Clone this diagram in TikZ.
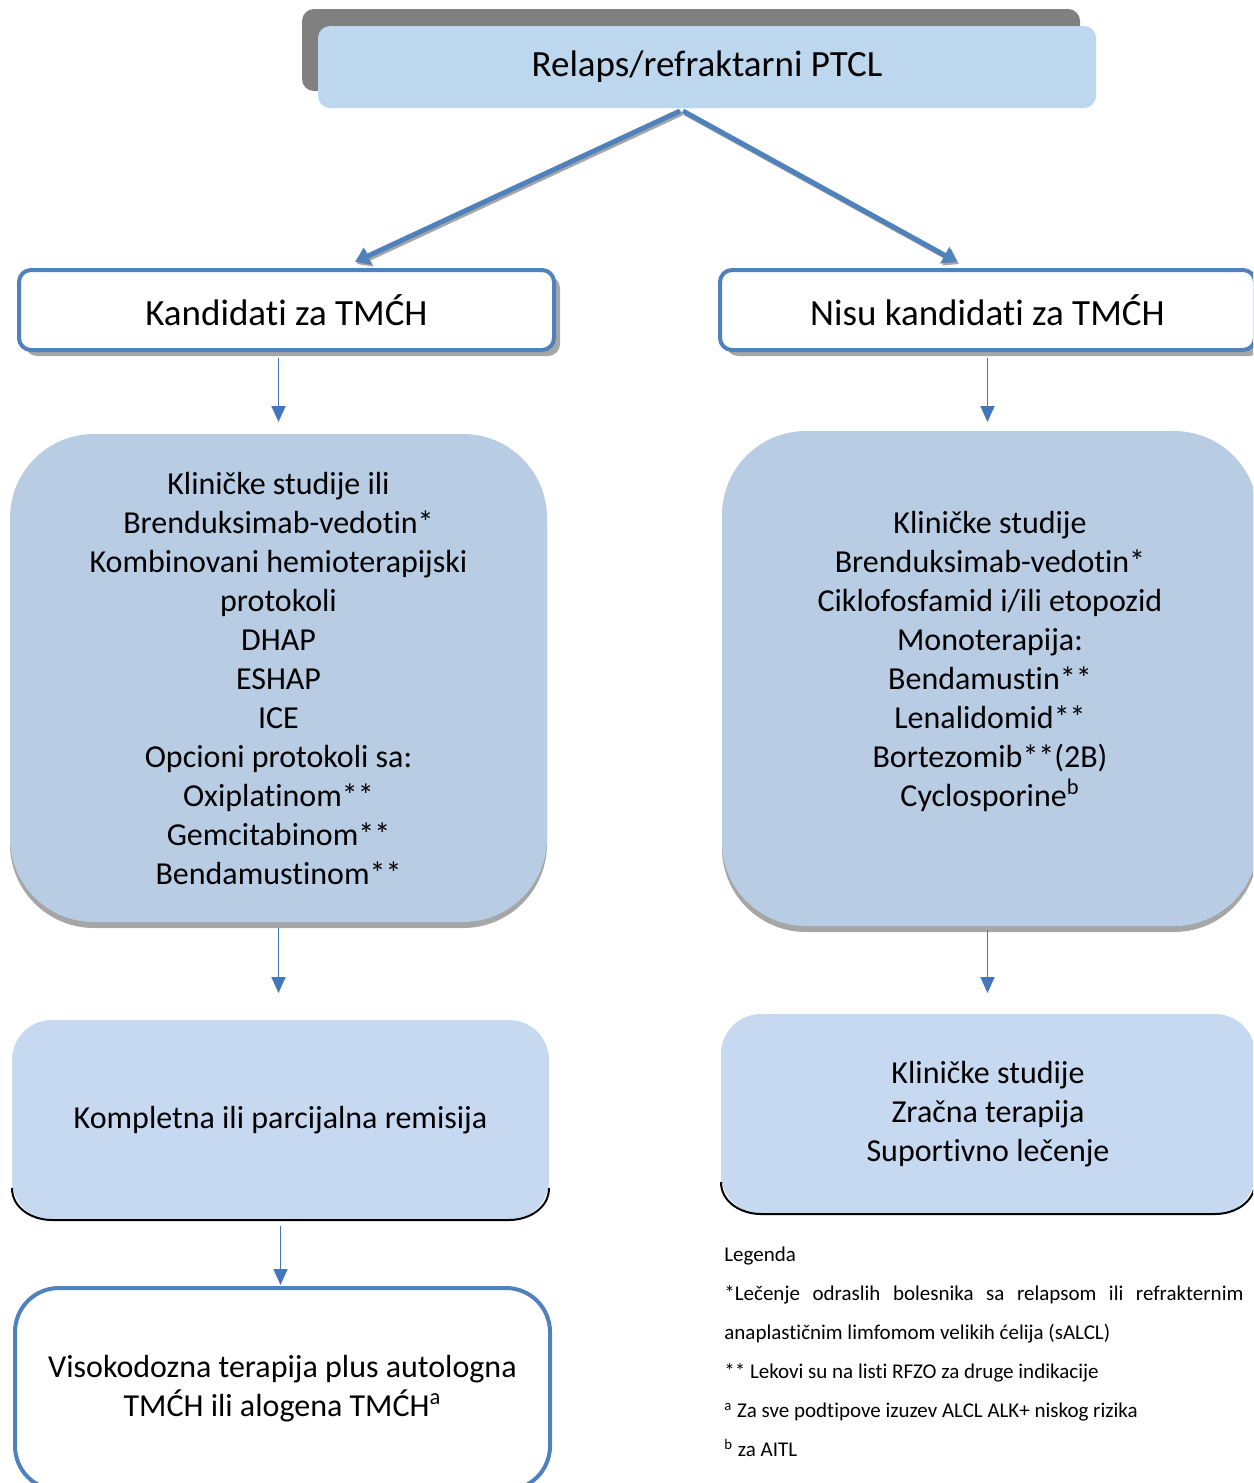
\documentclass[tikz,border=0pt]{standalone}
\usepackage{fontspec}
\setmainfont{Carlito}[RawFeature={-liga;-clig;-calt;-dlig}]
\usetikzlibrary{positioning,shadows,arrows.meta}

\definecolor{topfill}{RGB}{189,215,238}
\definecolor{topshade}{RGB}{128,128,128}
\definecolor{rimblue}{RGB}{79,129,189}
\definecolor{bigfill}{RGB}{184,204,228}
\definecolor{lowfill}{RGB}{198,217,240}
\definecolor{shadegray}{RGB}{166,166,166}
\definecolor{arrowblue}{RGB}{68,118,190}

\tikzset{
  box/.style={rectangle, align=center, inner sep=0pt, outer sep=0pt,
    font=\fontsize{16}{19.5}\selectfont},
  topbox/.style={box, fill=topfill, rounded corners=6pt,
    minimum width=389pt, minimum height=41pt,
    font=\fontsize{18.5}{22}\selectfont,
    drop shadow={shadow xshift=-8pt, shadow yshift=8.5pt, fill=topshade, opacity=1}},
  rimbox/.style={box, draw=rimblue, line width=2pt, fill=white, outer sep=1pt,
    rounded corners=6pt, minimum width=267.5pt, minimum height=40pt,
    font=\fontsize{18.5}{22}\selectfont,
    drop shadow={shadow xshift=3pt, shadow yshift=-3pt, fill=shadegray, opacity=1}},
  bigbox/.style={box, fill=bigfill, rounded corners=42pt,
    drop shadow={shadow xshift=0pt, shadow yshift=-3pt, fill=shadegray, opacity=1}},
  lowbox/.style={box, fill=lowfill, rounded corners=20pt, minimum height=100pt},
  endbox/.style={box, draw=rimblue, line width=2pt, fill=white, outer sep=1pt,
    rounded corners=22pt, minimum width=267.5pt, minimum height=101pt},
  legend/.style={align=left, inner sep=0pt, font=\fontsize{10.5}{19.5}\selectfont},
  bigarrow/.style={draw=rimblue, line width=2.5pt, -{Triangle[width=9pt,length=7pt]}},
  arrowshade/.style={draw=shadegray, line width=2.5pt, -{Triangle[width=9pt,length=7pt]},
    transform canvas={xshift=1pt,yshift=-1pt}},
  thinarrow/.style={draw=arrowblue, line width=0.9pt, -{Triangle[width=7pt,length=8pt]}},
  lowrim/.style={draw=black, line width=1pt}
}

\begin{document}
\begin{tikzpicture}[x=0.5pt,y=-0.5pt]
  \useasboundingbox (0,0) rectangle (1253,1483);
  \clip (0,0) rectangle (1253,1483);

  \node[topbox] (relaps) at (707,67) {Relaps/refraktarni PTCL};
  \node[rimbox] (kand) at (286.5,310) {Kandidati za TMĆH};
  \node[rimbox] (nisu) at (987.5,310) {Nisu kandidati za TMĆH};

  % levo
  \node[bigbox, minimum width=268.5pt, minimum height=244pt] (lbig)
       [below=41pt of kand, xshift=-4pt]
       {Kliničke studije ili\\ Brenduksimab-vedotin*\\ Kombinovani hemioterapijski\\
        protokoli\\ DHAP\\ ESHAP\\ ICE\\ Opcioni protokoli sa:\\ Oxiplatinom**\\
        Gemcitabinom**\\ Bendamustinom**};
  \node[lowbox, minimum width=268.5pt] (kompl) [below=49pt of lbig, xshift=1pt]
       {Kompletna ili parcijalna remisija};
  \node[endbox] (viso) [below=33pt of kompl, xshift=1pt]
       {Visokodozna terapija plus autologna\\ TMĆH ili alogena TMĆH\textsuperscript{a}};

  % desno
  \node[bigbox, minimum width=268pt, minimum height=247.5pt] (rbig)
       [below=39.5pt of nisu, xshift=1.25pt]
       {Kliničke studije\\ Brenduksimab-vedotin*\\ Ciklofosfamid i/ili etopozid\\
        Monoterapija:\\ Bendamustin**\\ Lenalidomid**\\ Bortezomib**(2B)\\
        Cyclosporine\textsuperscript{b}\\ \mbox{}};
  \node[lowbox, minimum width=267pt] (rlow) [below=44pt of rbig, xshift=-1pt]
       {Kliničke studije\\ Zračna terapija\\ Suportivno lečenje};

  \draw[lowrim] ([yshift=16pt]kompl.south west) to[out=-90,in=180] ([xshift=20pt]kompl.south west)
    -- ([xshift=-20pt]kompl.south east) to[out=0,in=-90] ([yshift=16pt]kompl.south east);
  \draw[lowrim] ([yshift=16pt]rlow.south west) to[out=-90,in=180] ([xshift=20pt]rlow.south west)
    -- ([xshift=-20pt]rlow.south east) to[out=0,in=-90] ([yshift=16pt]rlow.south east);

  % strelice
  \draw[arrowshade] ([xshift=-13.5pt,yshift=-1.5pt]relaps.south) -- ([xshift=34.25pt,yshift=3pt]kand.north);
  \draw[arrowshade] ([xshift=-12pt,yshift=-1.5pt]relaps.south) -- ([xshift=-15.25pt,yshift=3pt]nisu.north);
  \draw[bigarrow] ([xshift=-13.5pt,yshift=-1.5pt]relaps.south) -- ([xshift=34.25pt,yshift=3pt]kand.north);
  \draw[bigarrow] ([xshift=-12pt,yshift=-1.5pt]relaps.south) -- ([xshift=-15.25pt,yshift=3pt]nisu.north);

  \draw[thinarrow] ([yshift=-3pt]lbig.north |- kand.south) -- ([yshift=6pt]lbig.north);
  \draw[thinarrow] ([yshift=-3pt]lbig.south) -- ([yshift=13.5pt]kompl.north -| lbig.south);
  \draw[thinarrow] ([yshift=-3pt]kompl.south) -- ([yshift=0.5pt]viso.north -| kompl.south);
  \draw[thinarrow] ([yshift=-3pt]nisu.south) -- ([yshift=4.5pt]rbig.north -| nisu.south);
  \draw[thinarrow] ([yshift=-2pt]rbig.south -| nisu.south) -- ([yshift=10.5pt]rlow.north -| nisu.south);

  \node[legend, anchor=north west] (legenda) at (724,1247)
       {Legenda\\
        \makebox[259.5pt][s]{*Lečenje odraslih bolesnika sa relapsom ili refrakternim}\\
        anaplastičnim limfomom velikih ćelija (sALCL)\\
        {}** Lekovi su na listi RFZO za druge indikacije\\
        \textsuperscript{a} Za sve podtipove izuzev ALCL ALK+ niskog rizika\\
        \textsuperscript{b} za AITL};
\end{tikzpicture}
\end{document}
